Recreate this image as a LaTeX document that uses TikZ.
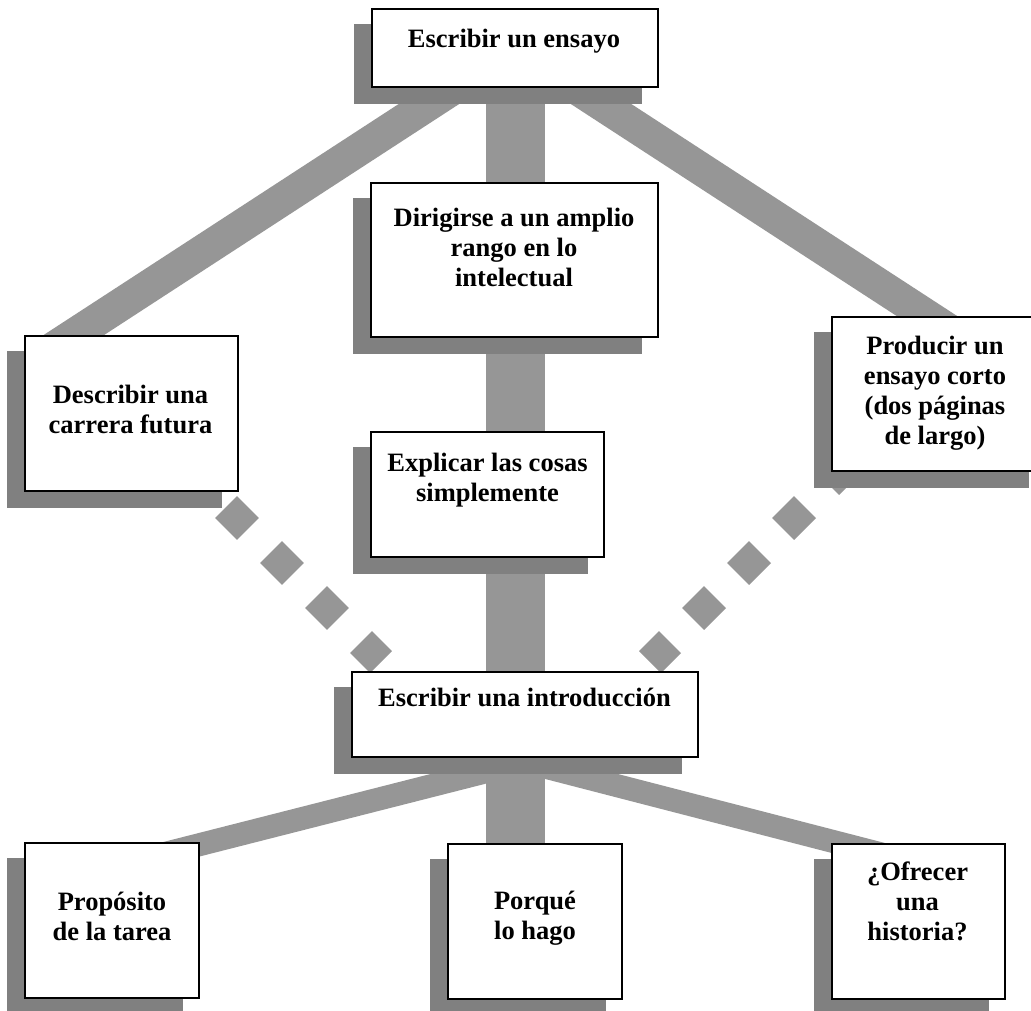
\documentclass[tikz,border=0pt]{standalone}
\usepackage{fontspec}
\setmainfont{Liberation Serif}
\usetikzlibrary{calc}
\pgfdeclarelayer{bars}
\pgfdeclarelayer{shadows}
\pgfsetlayers{bars,shadows,main}
\definecolor{bargray}{gray}{0.59}
\definecolor{shadowgray}{gray}{0.50}
\begin{document}
\begin{tikzpicture}[x=1pt,y=-1pt,
  box/.style={draw=black, line width=2pt, fill=white, inner sep=0pt},
  txt/.style={inner sep=0pt, anchor=north, align=center,
    font=\fontsize{26.5}{30}\selectfont\bfseries},
  widebar/.style={draw=bargray, line width=59pt},
  diagbar/.style={draw=bargray, line width=33pt},
  thinbar/.style={draw=bargray, line width=23pt},
  dotbar/.style={draw=bargray, line width=31.1pt, dash pattern=on 31.1pt off 32.54pt}
]
\useasboundingbox (0,0) rectangle (1031,1010);

% boxes
\node[box, minimum width=286pt, minimum height=78pt]  (top)   at (515,48) {};
\node[box, minimum width=287pt, minimum height=154pt] (dir)   at (514.5,260) {};
\node[box, minimum width=233pt, minimum height=125pt] (exp)   at (487.5,494.5) {};
\node[box, minimum width=213pt, minimum height=155pt] (left)  at (131.5,413.5) {};
\node[box, minimum width=213pt, minimum height=154pt] (right) at (938.5,394) {};
\node[box, minimum width=346pt, minimum height=85pt]  (intro) at (525,714.5) {};
\node[box, minimum width=174pt, minimum height=155pt] (prop)  at (112,920.5) {};
\node[box, minimum width=174pt, minimum height=155pt] (porq)  at (535,921) {};
\node[box, minimum width=173pt, minimum height=155pt] (ofre)  at (918.5,921) {};

% texts (first baseline minus strut height)
\node[txt] (ttop)   at (514,27)    {\rule{0pt}{20pt}Escribir un ensayo};
\node[txt] (tdir)   at (514,206)   {\rule{0pt}{20pt}Dirigirse a un amplio\\rango en lo\\intelectual};
\node[txt] (texp)   at (487.5,451) {\rule{0pt}{20pt}Explicar las cosas\\simplemente};
\node[txt] (tleft)  at (130.5,383) {\rule{0pt}{20pt}Describir una\\carrera futura};
\node[txt] (tright) at (935,334)   {\rule{0pt}{20pt}Producir un\\ensayo corto\\(dos páginas\\de largo)};
\node[txt] (tintro) at (524.5,686) {\rule{0pt}{20pt}Escribir una introducción};
\node[txt] (tprop)  at (112,890)   {\rule{0pt}{20pt}Propósito\\de la tarea};
\node[txt] (tporq)  at (535,889)   {\rule{0pt}{20pt}Porqué\\lo hago};
\node[txt] (tofre)  at (917.5,860) {\rule{0pt}{20pt}¿Ofrecer\\una\\historia?};

% shadows
\begin{pgfonlayer}{shadows}
\foreach \n in {top,dir,exp,left,right,intro,prop,porq,ofre}
  \fill[shadowgray] ([shift={(-17,16)}]\n.north west) rectangle ([shift={(-17,16)}]\n.south east);
\end{pgfonlayer}

% connectors
\begin{pgfonlayer}{bars}
\draw[widebar] (top.center) -- (top.center |- porq.center);
\draw[diagbar] (top.center) -- ($(left.north west)+(13,24)$);
\draw[diagbar] (top.center) -- ($(right.north east)+(-53,43)$);
\draw[thinbar] ($(intro.south)+(15,0)$) -- ($(prop.north east)+(-49,15)$);
\draw[thinbar] ($(intro.south)+(-15,0)$) -- ($(ofre.north west)+(68,16)$);
\draw[dotbar] ($(left.south east)+(-58,-30)$) -- ($(intro.north west)+(30,-9)$);
\draw[dotbar] ($(right.south west)+(19,-10)$) -- ($(intro.north east)+(-49,-9)$);
\end{pgfonlayer}
\end{tikzpicture}
\end{document}
